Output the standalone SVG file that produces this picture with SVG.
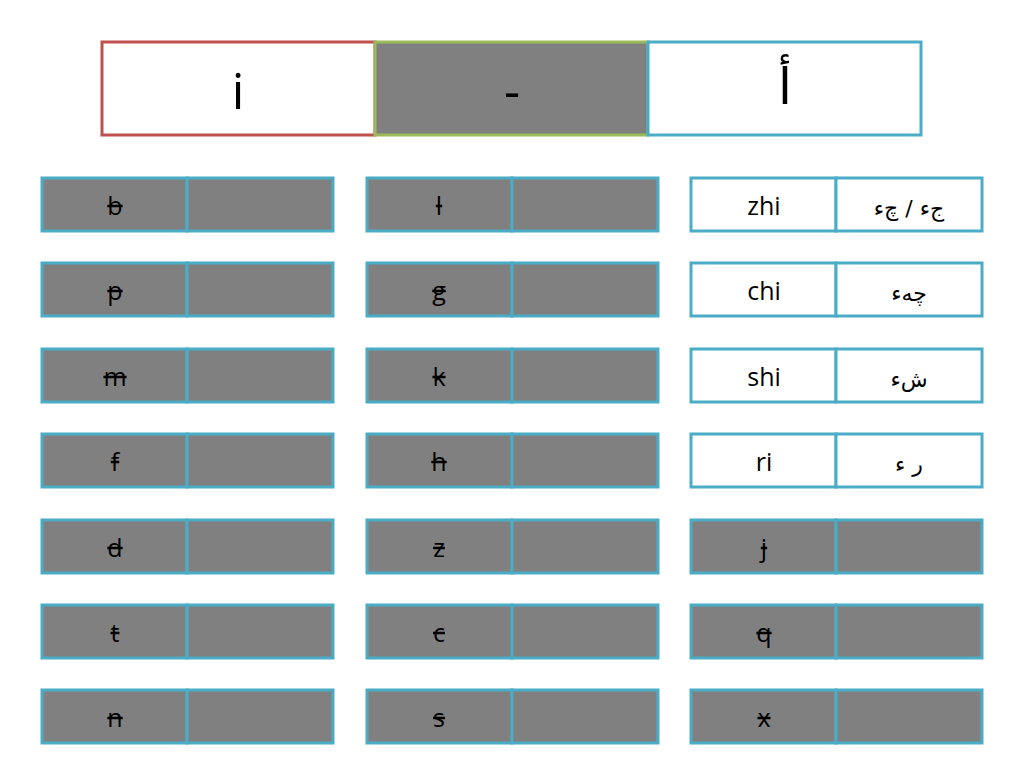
<svg xmlns="http://www.w3.org/2000/svg" width="1024" height="768" viewBox="0 0 1024 768">
<style>
.c{stroke:#4bacc6;stroke-width:3}
.g{fill:#808080}
.w{fill:#fff}
.t{font-family:"Open Sans","Liberation Sans",sans-serif;font-size:25px;fill:#000;text-anchor:middle;dominant-baseline:central}
.s{text-decoration:line-through}
.a{font-family:"DejaVu Sans","Noto Sans",sans-serif;font-size:22px;text-anchor:middle;dominant-baseline:central}
.h{font-family:"Open Sans","Liberation Sans","DejaVu Sans",sans-serif;font-size:50px;text-anchor:middle;dominant-baseline:central}
</style>
<rect width="1024" height="768" fill="#fff"/>
<g id="header">
<rect x="102" y="42" width="273" height="93" fill="#fff" stroke="#c0504d" stroke-width="3"/>
<rect x="375" y="42" width="273" height="93" fill="#808080" stroke="#9bbb59" stroke-width="3"/>
<rect x="648" y="42" width="273" height="93" fill="#fff" stroke="#4bacc6" stroke-width="3"/>
<text class="h" x="238" y="90">i</text>
<text class="h" x="512" y="90">-</text>
<text class="h" x="785" y="85">أ</text>
</g>
<g id="col1">
<g id="b"><rect class="c g" x="42" y="178" width="145" height="53"/><rect class="c g" x="187" y="178" width="146" height="53"/><text class="t s" x="115" y="205">b</text></g>
<g id="p"><rect class="c g" x="42" y="263" width="145" height="53"/><rect class="c g" x="187" y="263" width="146" height="53"/><text class="t s" x="115" y="290">p</text></g>
<g id="m"><rect class="c g" x="42" y="349" width="145" height="53"/><rect class="c g" x="187" y="349" width="146" height="53"/><text class="t s" x="115" y="376">m</text></g>
<g id="f"><rect class="c g" x="42" y="434" width="145" height="53"/><rect class="c g" x="187" y="434" width="146" height="53"/><text class="t s" x="115" y="461">f</text></g>
<g id="d"><rect class="c g" x="42" y="520" width="145" height="53"/><rect class="c g" x="187" y="520" width="146" height="53"/><text class="t s" x="115" y="547">d</text></g>
<g id="t"><rect class="c g" x="42" y="605" width="145" height="53"/><rect class="c g" x="187" y="605" width="146" height="53"/><text class="t s" x="115" y="632">t</text></g>
<g id="n"><rect class="c g" x="42" y="690" width="145" height="53"/><rect class="c g" x="187" y="690" width="146" height="53"/><text class="t s" x="115" y="717">n</text></g>
</g>
<g id="col2">
<g id="l"><rect class="c g" x="367" y="178" width="145" height="53"/><rect class="c g" x="512" y="178" width="146" height="53"/><text class="t s" x="439" y="205">l</text></g>
<g id="g"><rect class="c g" x="367" y="263" width="145" height="53"/><rect class="c g" x="512" y="263" width="146" height="53"/><text class="t s" x="439" y="290">g</text></g>
<g id="k"><rect class="c g" x="367" y="349" width="145" height="53"/><rect class="c g" x="512" y="349" width="146" height="53"/><text class="t s" x="439" y="376">k</text></g>
<g id="h"><rect class="c g" x="367" y="434" width="145" height="53"/><rect class="c g" x="512" y="434" width="146" height="53"/><text class="t s" x="439" y="461">h</text></g>
<g id="z"><rect class="c g" x="367" y="520" width="145" height="53"/><rect class="c g" x="512" y="520" width="146" height="53"/><text class="t s" x="439" y="547">z</text></g>
<g id="c"><rect class="c g" x="367" y="605" width="145" height="53"/><rect class="c g" x="512" y="605" width="146" height="53"/><text class="t s" x="439" y="632">c</text></g>
<g id="s"><rect class="c g" x="367" y="690" width="145" height="53"/><rect class="c g" x="512" y="690" width="146" height="53"/><text class="t s" x="439" y="717">s</text></g>
</g>
<g id="col3">
<g id="zhi"><rect class="c w" x="691" y="178" width="145" height="53"/><rect class="c w" x="836" y="178" width="146" height="53"/><text class="t" x="764" y="205">zhi</text><text class="a" x="909" y="208">جء / چء</text></g>
<g id="chi"><rect class="c w" x="691" y="263" width="145" height="53"/><rect class="c w" x="836" y="263" width="146" height="53"/><text class="t" x="764" y="290">chi</text><text class="a" x="909" y="293">چهء</text></g>
<g id="shi"><rect class="c w" x="691" y="349" width="145" height="53"/><rect class="c w" x="836" y="349" width="146" height="53"/><text class="t" x="764" y="376">shi</text><text class="a" x="909" y="379">شء</text></g>
<g id="ri"><rect class="c w" x="691" y="434" width="145" height="53"/><rect class="c w" x="836" y="434" width="146" height="53"/><text class="t" x="764" y="461">ri</text><text class="a" x="909" y="464">ر ء</text></g>
<g id="j"><rect class="c g" x="691" y="520" width="145" height="53"/><rect class="c g" x="836" y="520" width="146" height="53"/><text class="t s" x="764" y="547">j</text></g>
<g id="q"><rect class="c g" x="691" y="605" width="145" height="53"/><rect class="c g" x="836" y="605" width="146" height="53"/><text class="t s" x="764" y="632">q</text></g>
<g id="x"><rect class="c g" x="691" y="690" width="145" height="53"/><rect class="c g" x="836" y="690" width="146" height="53"/><text class="t s" x="764" y="717">x</text></g>
</g>
<g id="connectors"/>
</svg>
